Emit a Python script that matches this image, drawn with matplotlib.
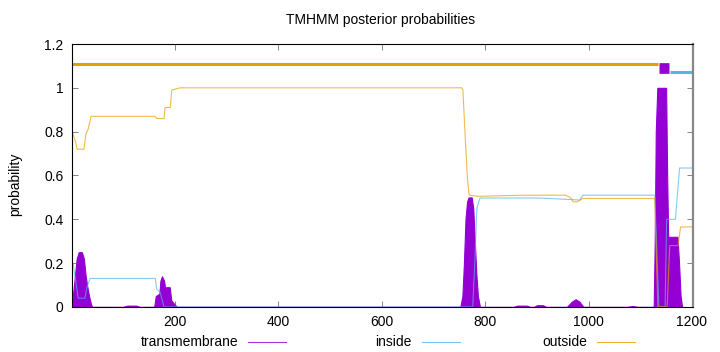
import matplotlib
matplotlib.use('Agg')
import matplotlib.pyplot as plt
from matplotlib.lines import Line2D
from matplotlib.ticker import FormatStrFormatter

plt.rcParams['font.family'] = ['Liberation Sans', 'DejaVu Sans']

seq_len = 1202

# posterior probabilities at the residues where they change
outside_pos = [1, 4, 7, 11, 24, 28, 32, 38, 162, 165, 179, 181, 191, 194, 210,
               755, 757, 762, 766, 769, 786, 877, 955, 965, 970, 978, 989,
               1128, 1134, 1152, 1157, 1173, 1178, 1202]
outside_val = [0.80, 0.78, 0.76, 0.72, 0.72, 0.79, 0.81, 0.87, 0.87, 0.86, 0.86, 0.91, 0.91, 0.99, 1.0,
               1.0, 0.99, 0.75, 0.58, 0.51, 0.505, 0.51, 0.51, 0.5, 0.48, 0.48, 0.495,
               0.495, 0.0, 0.0, 0.28, 0.28, 0.365, 0.365]

inside_pos = [1, 3, 13, 26, 30, 36, 162, 165, 171, 179, 776, 780, 784, 790, 906, 983, 989,
              1128, 1136, 1148, 1151, 1168, 1176, 1202]
inside_val = [0.19, 0.20, 0.04, 0.04, 0.09, 0.13, 0.13, 0.08, 0.07, 0.0, 0.0, 0.2, 0.45, 0.497, 0.497, 0.488, 0.51,
              0.51, 0.0, 0.0, 0.40, 0.40, 0.634, 0.634]

tm_pos = [1, 4, 7, 10, 14, 20, 24, 27, 30, 34, 38, 40,
          100, 108, 125, 132,
          160, 163, 170, 172, 175, 179, 181, 190, 193, 200, 204,
          752, 756, 759, 762, 765, 768, 774, 777, 780, 783, 786, 790,
          855, 862, 880, 887, 895, 900, 912, 918, 958, 968, 975, 982, 990, 1075, 1085, 1095,
          1126, 1128, 1130, 1133, 1150, 1152, 1154, 1172, 1175, 1178, 1181]
tm_val = [0.02, 0.08, 0.15, 0.22, 0.25, 0.25, 0.22, 0.15, 0.10, 0.05, 0.01, 0.0,
          0.0, 0.006, 0.006, 0.0,
          0.0, 0.05, 0.06, 0.12, 0.14, 0.12, 0.09, 0.09, 0.03, 0.01, 0.0,
          0.0, 0.05, 0.2, 0.4, 0.48, 0.5, 0.5, 0.45, 0.3, 0.15, 0.05, 0.0,
          0.0, 0.006, 0.006, 0.0, 0.0, 0.008, 0.008, 0.0, 0.0, 0.025, 0.035, 0.025, 0.0, 0.0, 0.004, 0.0,
          0.0, 0.3, 0.8, 1.0, 1.0, 0.6, 0.32, 0.32, 0.2, 0.05, 0.0]

# predicted topology shown above the curves
regions = ['outside', 'TMhelix', 'inside']
region_start = [1, 1136, 1157]
region_end = [1135, 1156, 1202]

purple = '#9400D3'
blue = '#56B4E9'
orange = '#E69F00'

fig = plt.figure(figsize=(7.2, 3.52), dpi=100)
ax = fig.add_axes([0.1, 0.128, 0.8625, 0.747])

ax.fill_between(tm_pos, tm_val, color=purple, lw=0.8)
ax.plot(inside_pos, inside_val, color=blue, lw=0.8, alpha=0.7)
ax.plot(outside_pos, outside_val, color=orange, lw=0.8, alpha=0.7)

for name, s, e in zip(regions, region_start, region_end):
    if name == 'outside':
        ax.plot([s, e], [1.11, 1.11], color=orange, lw=2.2, solid_capstyle='butt')
    elif name == 'inside':
        ax.plot([s, e], [1.07, 1.07], color=blue, lw=2.2, solid_capstyle='butt')
    else:
        ax.plot([s, e], [1.09, 1.09], color=purple, lw=7.7, solid_capstyle='butt')

ax.set_xlim(1, seq_len)
ax.set_ylim(0, 1.2)
ax.set_xticks([200, 400, 600, 800, 1000, 1200])
ax.set_yticks([0, 0.2, 0.4, 0.6, 0.8, 1.0, 1.2])
ax.yaxis.set_major_formatter(FormatStrFormatter('%g'))
ax.tick_params(direction='in', length=4, width=0.5, color='#555555',
               top=True, right=True, labelsize=10, pad=6)
for sp in ax.spines.values():
    sp.set_linewidth(0.8)
ax.spines['right'].set_color('#888888')
ax.spines['right'].set_linewidth(1.6)

fig.text(0.528, 0.943, 'TMHMM posterior probabilities', ha='center', va='center', fontsize=10)
fig.text(0.021, 0.475, 'probability', rotation=90, ha='center', va='center', fontsize=10)

# key along the bottom
labels = ['transmembrane', 'inside', 'outside']
colors = [purple, blue, orange]
text_right = [238, 412, 587]
for lab, c, xr in zip(labels, colors, text_right):
    fig.text(xr / 720, 1 - 342 / 352, lab, ha='right', va='center', fontsize=10)
    fig.add_artist(Line2D([(xr + 10) / 720, (xr + 48) / 720], [1 - 342 / 352] * 2,
                          color=c, lw=0.8, alpha=0.8))

fig.savefig('out.png', dpi=100)
